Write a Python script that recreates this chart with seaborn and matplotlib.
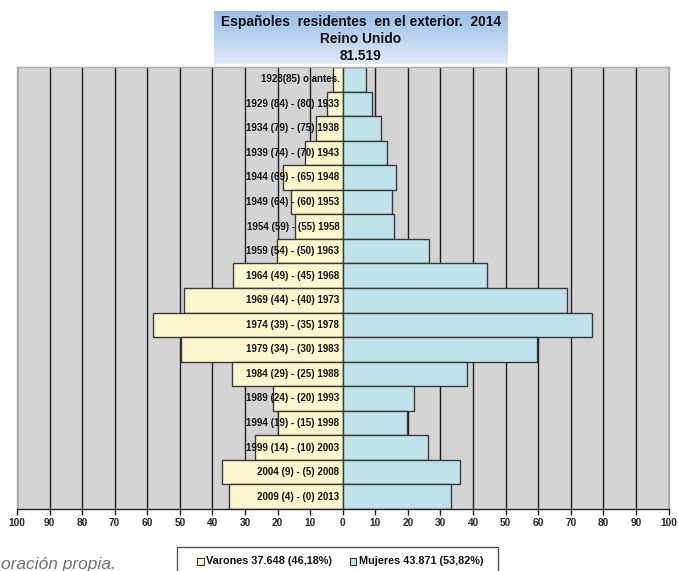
import numpy as np
import pandas as pd
import matplotlib
matplotlib.use("Agg")
import matplotlib.pyplot as plt
import seaborn as sns
from matplotlib.patches import Rectangle

categories = [
    "1928(85) o antes.", "1929 (84) - (80) 1933", "1934 (79) - (75) 1938",
    "1939 (74) - (70) 1943", "1944 (69) - (65) 1948", "1949 (64) - (60) 1953",
    "1954 (59) - (55) 1958", "1959 (54) - (50) 1963", "1964 (49) - (45) 1968",
    "1969 (44) - (40) 1973", "1974 (39) - (35) 1978", "1979 (34) - (30) 1983",
    "1984 (29) - (25) 1988", "1989 (24) - (20) 1993", "1994 (19) - (15) 1998",
    "1999 (14) - (10) 2003", "2004 (9) - (5) 2008", "2009 (4) - (0) 2013",
]
varones = [3.1, 4.9, 8.2, 11.5, 18.4, 15.8, 14.6, 20.1, 33.8, 48.8, 58.3, 49.8,
           34.1, 21.5, 19.9, 27.0, 37.0, 35.0]
mujeres = [7.1, 8.9, 11.8, 13.5, 16.2, 15.2, 15.8, 26.4, 44.4, 68.8, 76.6, 59.5,
           38.2, 21.9, 19.6, 26.2, 35.9, 33.1]
xticks = list(range(-100, 101, 10))
title_lines = ["Españoles  residentes  en el exterior.  2014", "Reino Unido", "81.519"]
legend_labels = ["Varones 37.648 (46,18%)", "Mujeres 43.871 (53,82%)"]
source_text = "oración propia."

df = pd.DataFrame({"cat": categories,
                   "Varones": [-v for v in varones],
                   "Mujeres": mujeres})

sns.set_style("white")
plt.rcParams["font.family"] = ["Liberation Sans", "DejaVu Sans"]

W, H = 678, 571
fig = plt.figure(figsize=(W / 100, H / 100), dpi=100)

def fx(px):
    return px / W

def fy(py):
    return 1 - py / H

L, R, T, B = 17, 668.5, 67, 509
ax = fig.add_axes([fx(L), fy(B), fx(R) - fx(L), fy(T) - fy(B)])
ax.set_facecolor("#d4d4d4")

male_c = "#fef7cd"
fem_c = "#bfe2eb"
edge_c = "#3a3a3a"

for xv in xticks:
    ax.axvline(xv, color="#1e1e1e", lw=1.0, zorder=0.5)

sns.barplot(data=df, x="Varones", y="cat", order=categories, orient="h",
            color=male_c, width=1.0, edgecolor=edge_c, linewidth=1.0,
            saturation=1, ax=ax, zorder=2)
sns.barplot(data=df, x="Mujeres", y="cat", order=categories, orient="h",
            color=fem_c, width=1.0, edgecolor=edge_c, linewidth=1.0,
            saturation=1, ax=ax, zorder=2)

for i, c in enumerate(categories):
    ax.text(-1.0, i, c, ha="right", va="center", fontsize=7,
            fontweight="bold", color="#111111", zorder=5)

ax.set_xlim(-100, 100)
ax.set_ylim(len(categories) - 0.5, -0.5)
ax.set_xticks(xticks)
ax.set_xticklabels([str(abs(v)) for v in xticks], fontsize=7.3, fontweight="bold")
ax.set_yticks([])
ax.set_xlabel("")
ax.set_ylabel("")
ax.tick_params(axis="x", direction="out", length=4, width=1, color="#222222",
               pad=2.5, bottom=True)
for s in ["top", "left", "right"]:
    ax.spines[s].set_color("#aaaaaa")
    ax.spines[s].set_linewidth(1)
ax.spines["bottom"].set_color("#222222")
ax.spines["bottom"].set_linewidth(1)

# Title box with gradient
tax = fig.add_axes([fx(214), fy(64), fx(507) - fx(214), fy(11) - fy(64)])
grad = np.linspace(0, 1, 100).reshape(-1, 1)
c_top = np.array([0.60, 0.74, 0.90])
c_bot = np.array([0.87, 0.92, 0.97])
img = c_top[None, None, :] * (1 - grad[:, :, None]) + c_bot[None, None, :] * grad[:, :, None]
tax.imshow(img, aspect="auto", extent=[0, 1, 0, 1], origin="upper")
tax.set_xlim(0, 1)
tax.set_ylim(0, 1)
tax.axis("off")
for t, py in zip(title_lines, [22, 39, 56]):
    fig.text(fx(361), fy(py), t, ha="center", va="center", fontsize=9.9,
             fontweight="bold", color="#111111")

# Source note
fig.text(fx(1), fy(564), source_text, ha="left", va="center",
         fontsize=12.5, style="italic", color="#707070")

# Legend box (cropped at bottom)
fig.patches.append(Rectangle((fx(177), fy(580)), fx(498) - fx(177), fy(547) - fy(580),
                             transform=fig.transFigure, facecolor="white",
                             edgecolor="#555555", linewidth=1, zorder=1))
for (lbl, col, px) in [(legend_labels[0], male_c, 197), (legend_labels[1], fem_c, 350)]:
    fig.patches.append(Rectangle((fx(px), fy(564.5)), fx(6.5), fy(558) - fy(564.5),
                                 transform=fig.transFigure, facecolor=col,
                                 edgecolor="#333333", linewidth=0.8, zorder=2))
    fig.text(fx(px + 9), fy(561), lbl, ha="left", va="center", fontsize=7.8,
             fontweight="bold", color="#111111", zorder=3)

fig.savefig("out.png", dpi=100)
